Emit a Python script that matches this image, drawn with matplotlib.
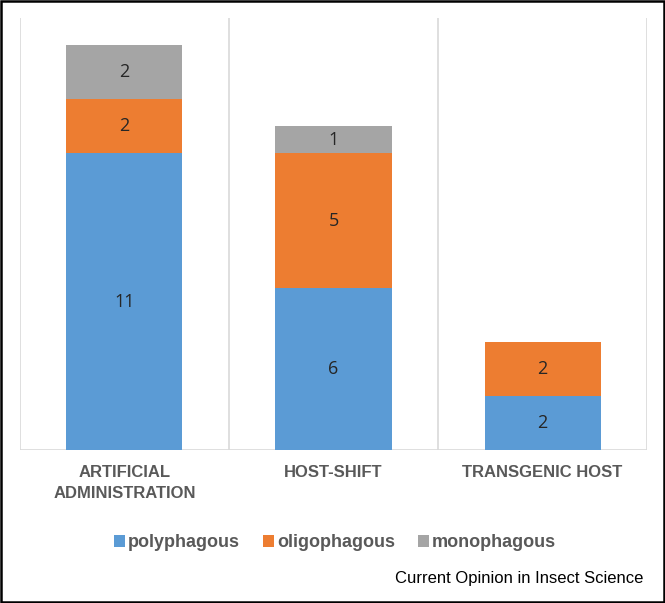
import matplotlib

matplotlib.use("Agg")
import matplotlib.pyplot as plt
import numpy as np
from matplotlib.patches import Rectangle

categories = ["ARTIFICIAL\nADMINISTRATION", "HOST-SHIFT", "TRANSGENIC HOST"]
series_names = ["polyphagous", "oligophagous", "monophagous"]
polyphagous = [11, 6, 2]
oligophagous = [2, 5, 2]
monophagous = [2, 1, 0]
colors = ["#5B9BD5", "#ED7D31", "#A5A5A5"]

fig = plt.figure(figsize=(6.65, 6.03), dpi=100)
ax = fig.add_axes([0.030, 0.2537, 0.943, 0.716])

x = np.arange(len(categories))
bottom = np.zeros(len(categories))
for name, vals, col in zip(series_names, [polyphagous, oligophagous, monophagous], colors):
    vals = np.array(vals, dtype=float)
    ax.bar(x, vals, 0.555, bottom=bottom, color=col, label=name, zorder=2)
    for xi, b, v in zip(x, bottom, vals):
        if v > 0:
            ax.text(xi, b + v / 2, f"{int(v)}", ha="center", va="center",
                    fontsize=13, color="#262626", family="Open Sans", zorder=3)
    bottom += vals

ax.set_xlim(-0.5, len(categories) - 0.5)
ax.set_ylim(0, 16)
for xv in np.arange(-0.5, len(categories), 1.0):
    ax.axvline(xv, color="#D9D9D9", linewidth=1.2, zorder=1)
ax.axhline(0, color="#D9D9D9", linewidth=1.2, zorder=1)
for s in ax.spines.values():
    s.set_visible(False)
ax.set_yticks([])
ax.set_xticks(x)
ax.set_xticklabels(categories, fontsize=12, fontweight="bold", color="#595959",
                   family="Liberation Sans", linespacing=1.45)
ax.tick_params(axis="x", length=0, pad=11)

ax.legend(loc="center", bbox_to_anchor=(0.504, 0.1), bbox_transform=fig.transFigure,
          ncol=3, frameon=False, handlelength=0.6, handleheight=0.6, handletextpad=0.15,
          columnspacing=1.3,
          prop={"family": "Liberation Sans", "weight": "bold", "size": 13})
for t in ax.get_legend().get_texts():
    t.set_color("#595959")

fig.text(0.967, 0.041, "Current Opinion in Insect Science", ha="right", va="center",
         fontsize=12, family="Liberation Sans", color="black")

fig.patches.append(Rectangle((0.002, 0.002), 0.996, 0.996, transform=fig.transFigure,
                             fill=False, edgecolor="black", linewidth=1.8))

fig.savefig("out.png", dpi=100)
